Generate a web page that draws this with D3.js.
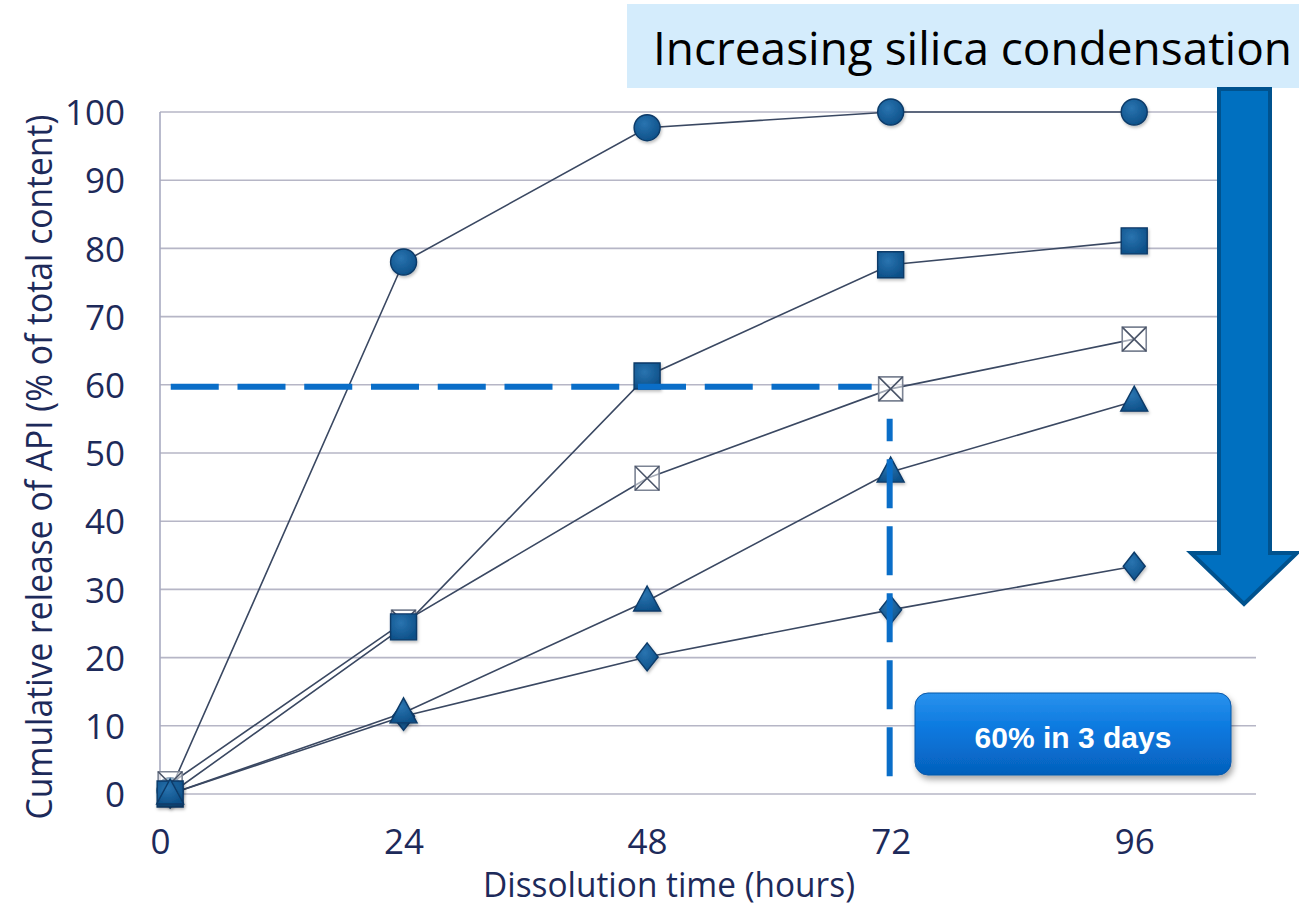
<!DOCTYPE html>
<html><head><meta charset="utf-8">
<script src="https://cdn.jsdelivr.net/npm/d3@7"></script>
<style>html,body{margin:0;padding:0;background:#fff;}svg{display:block;}</style>
</head><body>
<svg id="chart" width="1299" height="907"></svg>
<script>
// ---- data ----
const times = [1, 24, 48, 72, 96];
const xTicks = [0, 24, 48, 72, 96];
const yTicks = [0, 10, 20, 30, 40, 50, 60, 70, 80, 90, 100];
const seriesCircle   = [0.5, 78, 97.7, 100, 100];
const seriesSquare   = [0, 24.5, 61.3, 77.6, 81.1];
const seriesXBox     = [1.5, 25.2, 46.3, 59.4, 66.7];
const seriesTriangle = [0, 11.9, 28.3, 47.2, 57.6];
const seriesDiamond  = [0, 11.4, 20.1, 27, 33.4];
const targetValue = 60;
const targetTime = 72;
const titleText = "Increasing silica condensation";
const calloutText = "60% in 3 days";
const yTitle = "Cumulative release of API (% of total content)";
const xTitle = "Dissolution time (hours)";

const series = [
  {name:"circle", values: seriesCircle},
  {name:"square", values: seriesSquare},
  {name:"xbox", values: seriesXBox},
  {name:"triangle", values: seriesTriangle},
  {name:"diamond", values: seriesDiamond}
];
const markerOrder = ["circle", "xbox", "diamond", "square", "triangle"];

const svg = d3.select("#chart");
const x = d3.scaleLinear().domain([0, 108]).range([160, 1256]);
const y = d3.scaleLinear().domain([0, 100]).range([794, 112]);

const defs = svg.append("defs");
const rg = defs.append("radialGradient").attr("id","mk").attr("cx","40%").attr("cy","35%").attr("r","70%");
rg.append("stop").attr("offset","0%").attr("stop-color","#2a74b0");
rg.append("stop").attr("offset","100%").attr("stop-color","#0c4f87");
const bg = defs.append("linearGradient").attr("id","btn").attr("x1","0").attr("y1","0").attr("x2","0").attr("y2","1");
bg.append("stop").attr("offset","0%").attr("stop-color","#2a92ee");
bg.append("stop").attr("offset","45%").attr("stop-color","#0a78de");
bg.append("stop").attr("offset","100%").attr("stop-color","#0560bc");
const sh = defs.append("filter").attr("id","shadow").attr("x","-10%").attr("y","-10%").attr("width","130%").attr("height","140%");
sh.append("feDropShadow").attr("dx",2).attr("dy",4).attr("stdDeviation",3).attr("flood-color","#000").attr("flood-opacity",0.35);
const sh2 = defs.append("filter").attr("id","mshadow").attr("x","-30%").attr("y","-30%").attr("width","170%").attr("height","170%");
sh2.append("feDropShadow").attr("dx",1).attr("dy",2).attr("stdDeviation",1.5).attr("flood-color","#000").attr("flood-opacity",0.25);

// gridlines
svg.append("g").selectAll("line").data(yTicks).join("line")
  .attr("x1", x(0)).attr("x2", x(108))
  .attr("y1", d => y(d)).attr("y2", d => y(d))
  .attr("stroke", "#b6b6c6").attr("stroke-width", 1.6);
svg.append("line").attr("x1", x(0)).attr("x2", x(0)).attr("y1", y(100)).attr("y2", y(0))
  .attr("stroke", "#a8aac0").attr("stroke-width", 1.6);

// axes labels (via d3 axes, domain hidden)
const yAxis = svg.append("g").attr("transform", `translate(${x(0)},0)`)
  .call(d3.axisLeft(y).tickValues(yTicks).tickSize(0).tickPadding(35));
const xAxis = svg.append("g").attr("transform", `translate(0,${y(0)})`)
  .call(d3.axisBottom(x).tickValues(xTicks).tickSize(0).tickPadding(35));
[yAxis, xAxis].forEach(g => {
  g.select(".domain").remove();
  g.selectAll("text").attr("font-family","'Open Sans', sans-serif").attr("font-size", 35)
    .attr("fill","#1d2a5a");
});
yAxis.selectAll("text").attr("dy","0.36em");
xAxis.selectAll("text").attr("dy","0.72em");

svg.append("text").attr("transform", "translate(52,467) rotate(-90)")
  .attr("text-anchor","middle").attr("font-family","'Open Sans', sans-serif").attr("font-size", 36)
  .attr("fill","#1d2a5a").attr("textLength", 705).attr("lengthAdjust","spacingAndGlyphs").text(yTitle);
svg.append("text").attr("x", 669).attr("y", 897)
  .attr("text-anchor","middle").attr("font-family","'Open Sans', sans-serif").attr("font-size", 35)
  .attr("fill","#1d2a5a").attr("textLength", 372).attr("lengthAdjust","spacingAndGlyphs").text(xTitle);

// lines
const line = d3.line().x((d,i) => x(times[i])).y(d => y(d));
svg.append("g").selectAll("path").data(series).join("path")
  .attr("d", d => line(d.values)).attr("fill","none")
  .attr("stroke","#3a4862").attr("stroke-width",1.6);

// markers
function markerPath(type) {
  switch(type) {
    case "circle": return d3.symbol(d3.symbolCircle, Math.PI*13*13)();
    case "square": return "M-13,-13H13V13H-13Z";
    case "xbox": return "M-12,-12H12V12H-12Z";
    case "triangle": return "M0,-15L13.5,10H-13.5Z";
    case "diamond": return "M0,-14L11,0L0,14L-11,0Z";
  }
}
const mg = svg.append("g");
markerOrder.forEach(name => {
  const s = series.find(d => d.name === name);
  const g = mg.append("g");
  s.values.forEach((v, i) => {
    const gg = g.append("g").attr("transform", `translate(${x(times[i])},${y(v)})`);
    if (s.name === "xbox") {
      gg.append("path").attr("d", markerPath("xbox")).attr("fill","rgba(255,255,255,0.55)")
        .attr("stroke","#7c8494").attr("stroke-width",1.6);
      gg.append("path").attr("d","M-12,-12L12,12M12,-12L-12,12").attr("stroke","#4a5468").attr("stroke-width",1.6);
    } else {
      gg.append("path").attr("d", markerPath(s.name)).attr("fill","url(#mk)")
        .attr("stroke","#0a3a68").attr("stroke-width",1.4).attr("filter","url(#mshadow)");
    }
  });
});

// target dashed lines
svg.append("line").attr("x1", x(0)).attr("x2", x(targetTime) - 19)
  .attr("y1", y(targetValue) + 2).attr("y2", y(targetValue) + 2)
  .attr("stroke","#0a6ec8").attr("stroke-width",6).attr("stroke-dasharray","48,18.75").attr("stroke-dashoffset", 56);
svg.append("line").attr("x1", x(targetTime) - 1).attr("x2", x(targetTime) - 1)
  .attr("y1", y(2.6)).attr("y2", y(targetValue) + 34)
  .attr("stroke","#0a6ec8").attr("stroke-width",6).attr("stroke-dasharray","49,18");

// callout button
svg.append("rect").attr("x", 915).attr("y", 693).attr("width", 316).attr("height", 82).attr("rx", 13)
  .attr("fill","url(#btn)").attr("stroke","#0858a8").attr("stroke-width",1).attr("filter","url(#shadow)");
svg.append("text").attr("x", 1073).attr("y", 748).attr("text-anchor","middle")
  .attr("font-family","'Liberation Sans', Arial, sans-serif").attr("font-weight","bold").attr("font-size", 30)
  .attr("fill","#fff").text(calloutText);

// title box
svg.append("rect").attr("x", 627).attr("y", 4).attr("width", 672).attr("height", 84).attr("fill","#d4ecfc");
svg.append("text").attr("x", 653).attr("y", 65)
  .attr("font-family","'Open Sans', sans-serif").attr("font-size", 46).attr("fill","#000")
  .attr("textLength", 639).attr("lengthAdjust","spacingAndGlyphs").text(titleText);

// big arrow
svg.append("path")
  .attr("d", "M1219,89H1270V553H1297L1244,604L1191,553H1219Z")
  .attr("fill","#0070c0").attr("stroke","#00528e").attr("stroke-width",4).attr("stroke-linejoin","miter");
</script>
</body></html>
